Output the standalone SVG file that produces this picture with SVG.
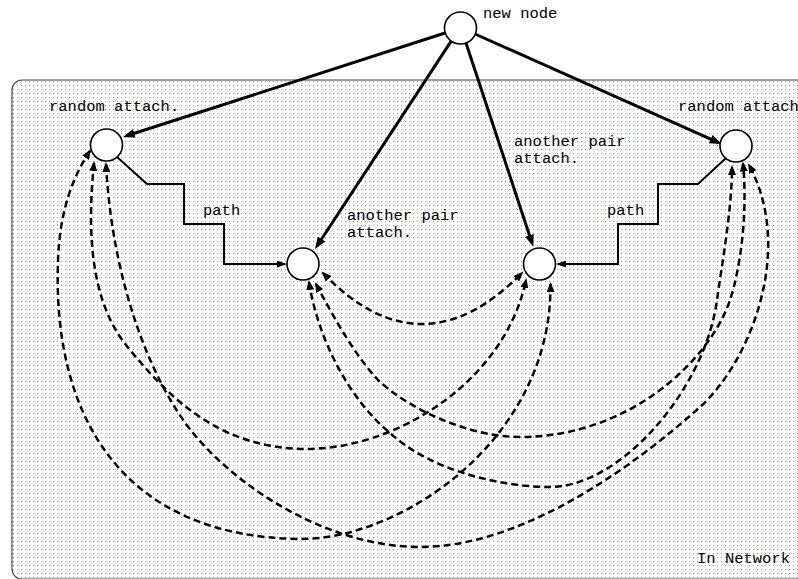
<svg xmlns="http://www.w3.org/2000/svg" width="798" height="579" viewBox="0 0 798 579">
  <defs>
    <pattern id="dots" x="0" y="0" width="4" height="4" patternUnits="userSpaceOnUse">
      <rect x="1" y="1" width="1" height="1" fill="#9c9c9c"/>
    </pattern>
    <marker id="arrowBig" markerUnits="userSpaceOnUse" viewBox="0 0 12 9" markerWidth="12" markerHeight="9" refX="8" refY="4.5" orient="auto">
      <path d="M0,0 L12,4.5 L0,9 Z" fill="#000"/>
    </marker>
    <marker id="arrowMid" markerUnits="userSpaceOnUse" viewBox="0 0 10 7" markerWidth="10" markerHeight="7" refX="8" refY="3.5" orient="auto">
      <path d="M0,0 L10,3.5 L0,7 Z" fill="#000"/>
    </marker>
    <marker id="arrowDash" markerUnits="userSpaceOnUse" viewBox="0 0 10 8" markerWidth="10" markerHeight="8" refX="8" refY="4" orient="auto-start-reverse">
      <path d="M0,0 L10,4 L0,8 Z" fill="#000"/>
    </marker>
  </defs>
  <style>
    .lbl { font-family: "Liberation Mono", "Courier New", monospace; font-size: 15.5px; fill: #000; }
    .node { fill: #fff; stroke: #000; stroke-width: 1.6; }
    .attach { fill: none; stroke: #000; stroke-width: 3; marker-end: url(#arrowBig); }
    .path { fill: none; stroke: #000; stroke-width: 2; stroke-linejoin: miter; marker-end: url(#arrowMid); }
    .dash { fill: none; stroke: #000; stroke-width: 2.5; stroke-dasharray: 7 4; marker-start: url(#arrowDash); marker-end: url(#arrowDash); }
  </style>

  <g id="network">
    <rect x="12" y="80" width="800" height="499" rx="10" ry="10" fill="#fff"/>
    <rect x="12" y="80" width="800" height="499" rx="10" ry="10" fill="url(#dots)" stroke="#444" stroke-width="1.2"/>
    <text class="lbl" x="697" y="563">In Network</text>
  </g>

  <g id="connectors">
    <!-- new node attachments -->
    <line class="attach" x1="445" y1="33" x2="126.8" y2="135.8"/>
    <line class="attach" x1="451" y1="41.4" x2="317.2" y2="245.7"/>
    <line class="attach" x1="466" y1="43" x2="532" y2="242.9"/>
    <line class="attach" x1="475" y1="34" x2="718" y2="142.4"/>
    <!-- paths -->
    <polyline class="path" points="117,157 147,184 184,184 184,224 224,224 224,264 285,264"/>
    <polyline class="path" points="726,158 698,184 658,184 658,224 618,224 618,264 558,264"/>
    <!-- dashed links -->
    <path class="dash" d="M323,273 Q421,375 522,273"/>
    <path class="dash" d="M90,151 C76,172 60,205 58,260 C52,420 125,537 300,539 C400,540 552,440 550.5,284"/>
    <path class="dash" d="M94,163 C84,260 100,315 130,350 C170,398 220,450 310,449 C400,447 505,380 526,280"/>
    <path class="dash" d="M106,164 C112,280 150,380 193,433 C240,490 330,547 420,547 C520,547 630,470 700,407 C750,362 795,250 749,165"/>
    <path class="dash" d="M309,282 C318,340 350,400 390,433 C430,470 500,487 550,487 C620,487 705,390 717,300 C721,270 732,210 732,167"/>
    <path class="dash" d="M316,284 C335,320 355,355 378,380 C410,410 470,437 520,437 C630,437 710,360 730,300 C740,270 748,215 743,163.5"/>
  </g>

  <g id="new-node">
    <circle class="node" cx="460.5" cy="28" r="16"/>
    <text class="lbl" x="483" y="18">new node</text>
  </g>
  <g id="left-random">
    <circle class="node" cx="106.5" cy="145" r="16"/>
    <text class="lbl" x="49" y="111">random attach.</text>
  </g>
  <g id="right-random">
    <circle class="node" cx="736" cy="146" r="16"/>
    <text class="lbl" x="678" y="111">random attach.</text>
  </g>
  <g id="left-pair">
    <circle class="node" cx="303" cy="264" r="16"/>
    <text class="lbl" x="347" y="220">another pair</text>
    <text class="lbl" x="347" y="237">attach.</text>
  </g>
  <g id="right-pair">
    <circle class="node" cx="539.5" cy="264" r="16"/>
    <text class="lbl" x="514" y="146">another pair</text>
    <text class="lbl" x="514" y="163">attach.</text>
  </g>
  <g id="path-labels">
    <text class="lbl" x="203" y="215">path</text>
    <text class="lbl" x="607" y="215">path</text>
  </g>
</svg>
